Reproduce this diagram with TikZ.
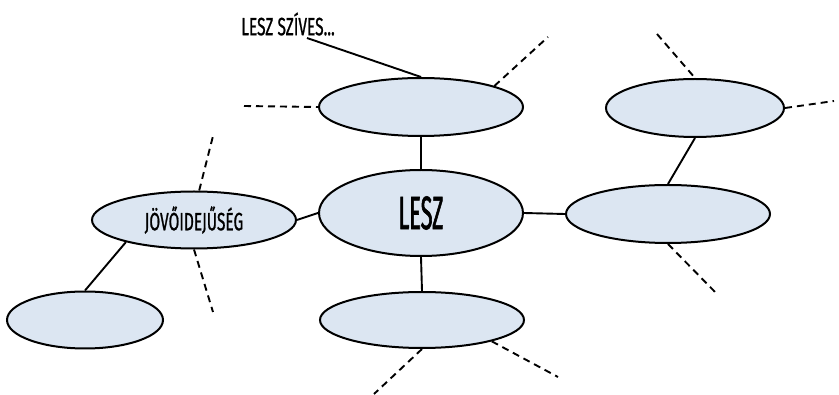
\documentclass[tikz,border=0pt]{standalone}
\usepackage{fontspec}
\usetikzlibrary{shapes.geometric}
\newfontfamily\handsmall{Fira Sans}[FakeStretch=0.62,FakeBold=0.8]
\newfontfamily\handbig{Fira Sans}[FakeStretch=0.46,FakeBold=1.2]
\definecolor{bub}{HTML}{DCE6F2}
\begin{document}
\begin{tikzpicture}[x=1pt,y=-1pt,
  bubble/.style={ellipse,draw=black,fill=bub,line width=2pt,inner sep=0pt},
  link/.style={line width=1.9pt},
  dlink/.style={line width=1.9pt,dash pattern=on 7pt off 5pt},
  smalltxt/.style={font=\handsmall\fontsize{25}{26}\selectfont,inner sep=0pt},
  bigtxt/.style={font=\handbig\fontsize{47}{48}\selectfont}]
\useasboundingbox (0,0) rectangle (839,395);
\coordinate (lblfoot) at (307,38);
\coordinate (dTl) at (244,106);
\coordinate (dTr) at (548,37);
\coordinate (dTRl) at (657,34);
\coordinate (dTRr) at (834,101);
\coordinate (dR) at (718,295);
\coordinate (dBl) at (374,394);
\coordinate (dBr) at (558,377);
\coordinate (dLu) at (213,136);
\coordinate (dLd) at (213,312);

\node[bubble,minimum width=204pt,minimum height=58pt] (T) at (421,107) {};
\node[bubble,minimum width=204pt,minimum height=86pt,bigtxt] (C) at (421,213) {LESZ};
\node[bubble,minimum width=204pt,minimum height=56pt] (B) at (422,320) {};
\node[bubble,minimum width=204pt,minimum height=57pt,smalltxt] (L) at (194,220) {JÖVŐIDEJŰSÉG};
\node[bubble,minimum width=156pt,minimum height=57pt] (LL) at (85,320) {};
\node[bubble,minimum width=204pt,minimum height=58pt] (R) at (668,214) {};
\node[bubble,minimum width=178pt,minimum height=58pt] (TR) at (695,108) {};
\node[smalltxt] (lbl) at (288,24) {LESZ SZÍVES...};

\draw[link] (lblfoot) -- (T.north);
\draw[link] (T.south) -- (C.north);
\draw[link] (C.south) -- (B.north);
\draw[link] (C.west) -- (L.east);
\draw[link] (C.east) -- (R.west);
\draw[link] (R.north) -- (TR.south);
\draw[link] (L.198) -- (LL.north);

\draw[dlink] (dTl) -- (T.west);
\draw[dlink] (T.16) -- (dTr);
\draw[dlink] (dTRl) -- (TR.north);
\draw[dlink] (TR.east) -- (dTRr);
\draw[dlink] (R.south) -- (dR);
\draw[dlink] (B.south) -- (dBl);
\draw[dlink] (B.-17) -- (dBr);
\draw[dlink] (L.80) -- (dLu);
\draw[dlink] (L.south) -- (dLd);
\end{tikzpicture}
\end{document}
